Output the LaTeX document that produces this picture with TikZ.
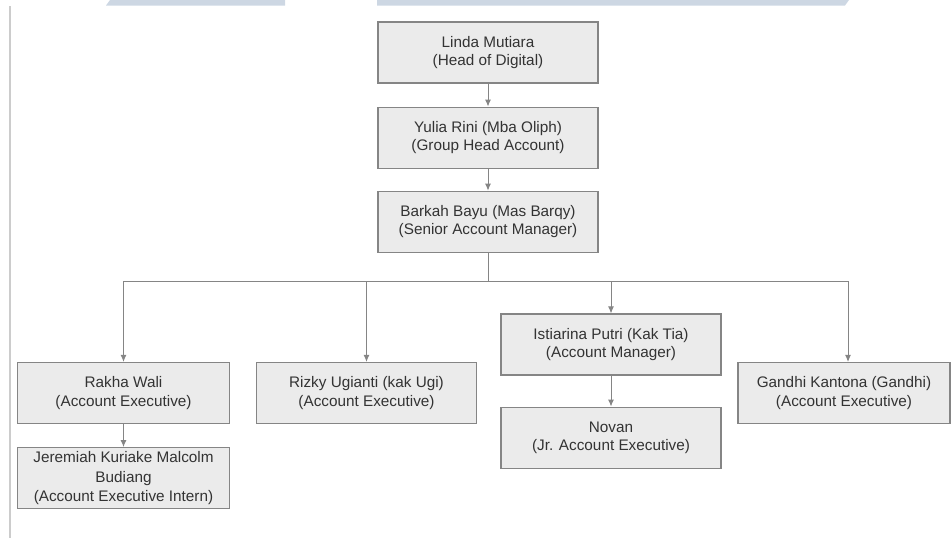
\documentclass[tikz,border=0pt]{standalone}
\usepackage{fontspec}
\setmainfont{Liberation Sans}
\usepackage{xcolor}
\usetikzlibrary{positioning, arrows.meta}
\definecolor{boxfill}{HTML}{EBEBEB}
\definecolor{boxline}{HTML}{858585}
\definecolor{txt}{HTML}{333333}
\definecolor{band}{HTML}{CDD7E3}
\tikzset{
    person/.style={rectangle, draw=boxline, fill=boxfill, line width=1.1pt, minimum width=220pt, minimum height=61pt, inner sep=0pt, align=center, text=txt, font=\fontsize{15.3}{18.5}\selectfont},
    nperson/.style={person, minimum width=212pt},
    link/.style={draw=boxline, line width=1pt, -{Latex[length=7pt,width=6pt]}},
}

\begin{document}
\begin{tikzpicture}[x=1pt, y=-1pt]
                        \useasboundingbox (0,0) rectangle (952,538);
                        % page header bands and margin rule
                        \fill[band] (110,0) -- (285,0) -- (285,5.5) -- (106,5.5) -- cycle;
                        \fill[band] (377,0) -- (849,0) -- (845,5.5) -- (377,5.5) -- cycle;
                        \draw[gray!40, line width=1.5pt] (10,6) -- (10,538);
                        \node [person] (linda) at (488,52.5) {Linda Mutiara\\(Head of Digital)};
                        \node [person] (yulia) [below=23pt of linda] {Yulia Rini (Mba Oliph)\\(Group Head Account)};
                        \node [person] (barkah) [below=22pt of yulia] {Barkah Bayu (Mas Barqy)\\(Senior Account Manager)};
                        \coordinate [below=29pt of barkah] (split);
                        \node [nperson] (rakha) at (123.5,393) {Rakha Wali\\(Account Executive)};
                        \node [nperson, font=\fontsize{15.3}{19.5}\selectfont] (jeremiah) [below=23pt of rakha] {Jeremiah Kuriake Malcolm\\Budiang\\(Account Executive Intern)};
                        \node [person] (rizky) at (366.5,393) {Rizky Ugianti (kak Ugi)\\(Account Executive)};
                        \node [person] (istiarina) at (611,344.5) {Istiarina Putri (Kak Tia)\\(Account Manager)};
                        \node [person] (novan) [below=31pt of istiarina] {Novan\\(Jr. Account Executive)};
                        \node [nperson] (gandhi) at (844,393) {Gandhi Kantona (Gandhi)\\(Account Executive)};
                        \draw[link] (linda) -- (yulia);
                        \draw[link] (yulia) -- (barkah);
                        \draw[link] (barkah) -- (split) -| (rakha);
                        \draw[link] (split) -| (rizky);
                        \draw[link] (split) -| (istiarina);
                        \draw[link] (split) -| ([xshift=4pt]gandhi.north);
                        \draw[link] (rakha) -- (jeremiah);
                        \draw[link] (istiarina) -- (novan);
                    \end{tikzpicture}
\end{document}
